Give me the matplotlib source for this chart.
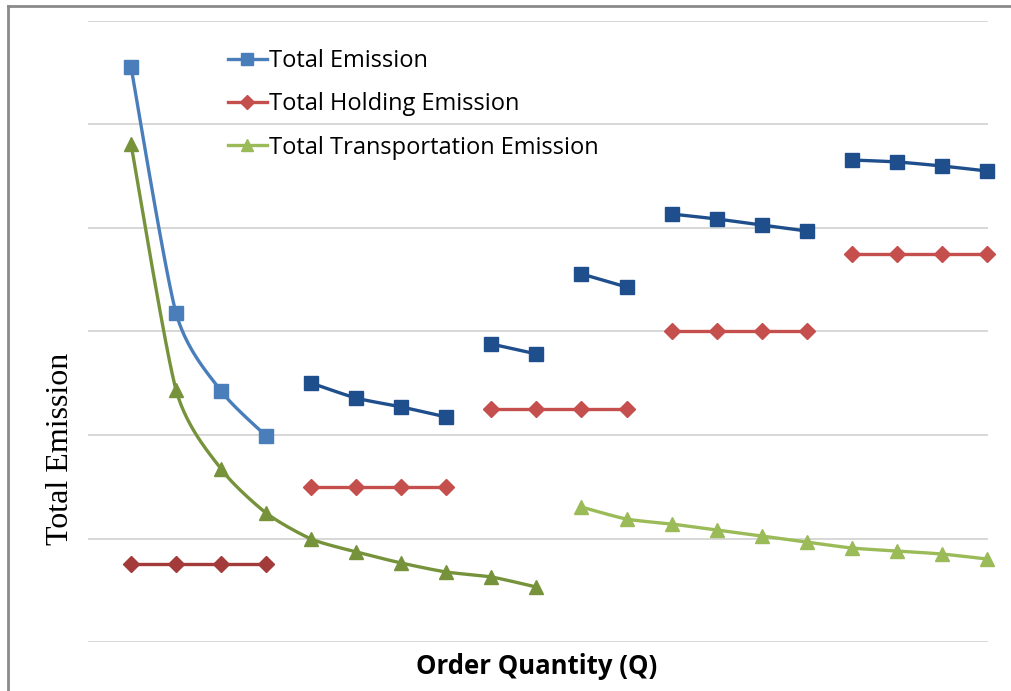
import numpy as np
import matplotlib
matplotlib.use("Agg")
import matplotlib.pyplot as plt
from matplotlib.lines import Line2D

# Order quantity levels (category positions 1..20)
order_q = list(range(1, 21))

total_emission = [555.6, 317.9, 242.5, 199.0,
                  250.2, 235.7, 227.1, 217.4,
                  287.9, 278.3,
                  355.6, 343.0,
                  413.5, 408.7, 402.9, 397.1,
                  465.7, 463.8, 459.9, 455.1]

holding_emission = [75.4, 75.4, 75.4, 75.4,
                    149.8, 149.8, 149.8, 149.8,
                    225.1, 225.1, 225.1, 225.1,
                    300.5, 300.5, 300.5, 300.5,
                    374.9, 374.9, 374.9, 374.9]

transport_emission = [481.2, 243.5, 167.1, 124.6, 99.5, 87.0, 76.3, 67.6, 62.8, 53.1,
                      130.4, 118.8, 114.0, 108.2, 102.4, 96.6, 90.8, 87.9, 85.0, 80.2]

# segments: (start index, end index inclusive, colour)
total_segments = [(0, 3, "#4a7ebb"), (4, 7, "#1f4e8c"), (8, 9, "#1f4e8c"),
                  (10, 11, "#1f4e8c"), (12, 15, "#1f4e8c"), (16, 19, "#1f4e8c")]
holding_segments = [(0, 3, "#a33b3a"), (4, 7, "#c44f4c"), (8, 11, "#c44f4c"),
                    (12, 15, "#c44f4c"), (16, 19, "#c44f4c")]
transport_segments = [(0, 9, "#76933c"), (10, 19, "#9bbb59")]


def smooth(x, y, n=30, tension=0.35):
    """Cardinal-spline smoothing through the given points."""
    x = np.asarray(x, float)
    y = np.asarray(y, float)
    if len(x) < 3:
        return x, y
    pts = np.column_stack([x, y])
    t = np.linspace(0, 1, n)
    h00 = 2 * t**3 - 3 * t**2 + 1
    h10 = t**3 - 2 * t**2 + t
    h01 = -2 * t**3 + 3 * t**2
    h11 = t**3 - t**2
    out = []
    for i in range(len(pts) - 1):
        p1, p2 = pts[i], pts[i + 1]
        p0 = pts[i - 1] if i > 0 else p1
        p3 = pts[i + 2] if i + 2 < len(pts) else p2
        m1 = tension * (p2 - p0)
        m2 = tension * (p3 - p1)
        seg = (np.outer(h00, p1) + np.outer(h10, m1) +
               np.outer(h01, p2) + np.outer(h11, m2))
        out.append(seg)
    out = np.vstack(out)
    return out[:, 0], out[:, 1]


fig = plt.figure(figsize=(10.11, 6.91), dpi=100)
ax = fig.add_axes([88 / 1011, 1 - 642 / 691, (988 - 88) / 1011, (642 - 21) / 691])

x = np.array(order_q, float)


def draw(values, segments, marker, ms, zorder):
    v = np.asarray(values, float)
    for s, e, c in segments:
        sx, sy = smooth(x[s:e + 1], v[s:e + 1])
        ax.plot(sx, sy, color=c, lw=2.4, zorder=zorder, solid_capstyle="round")
        ax.plot(x[s:e + 1], v[s:e + 1], ls="none", marker=marker, ms=ms,
                color=c, mec=c, zorder=zorder + 0.5, clip_on=False)


draw(holding_emission, holding_segments, "D", 8, 3)
draw(transport_emission, transport_segments, "^", 10, 4)
draw(total_emission, total_segments, "s", 9.5, 5)

ax.set_xlim(x[0] - 43 / 45.05, x[0] + (988 - 131) / 45.05)
ax.set_ylim(0, 600)
ax.set_yticks(np.arange(0, 601, 100))
ax.yaxis.grid(True, color="#d4d4d4", lw=1.3)
ax.set_axisbelow(True)
ax.tick_params(left=False, bottom=False, labelleft=False, labelbottom=False)
for sp in ax.spines.values():
    sp.set_visible(False)

fig.text(537 / 1011, 1 - 667 / 691, "Order Quantity (Q)", ha="center", va="center",
         fontsize=18.5, fontweight="bold", family=["Open Sans", "DejaVu Sans"])
fig.text(61 / 1011, 1 - 449 / 691, "Total Emission", rotation=90,
         ha="center", va="center", fontsize=23, family="Liberation Serif")

handles = [
    Line2D([], [], color="#4a7ebb", lw=2.4, marker="s", ms=9),
    Line2D([], [], color="#c44f4c", lw=2.4, marker="D", ms=7),
    Line2D([], [], color="#9bbb59", lw=2.4, marker="^", ms=9),
]
labels = ["Total Emission", "Total Holding Emission", "Total Transportation Emission"]
ax.legend(handles, labels, loc="upper left", bbox_to_anchor=(140 / 900, 0.955),
          borderaxespad=0, borderpad=0, frameon=False, handlelength=1.65,
          handletextpad=0.1, labelspacing=0.82,
          prop={"family": "Open Sans", "size": 17})

# outer frame lines (top and left)
fig.add_artist(Line2D([8 / 1011, 1], [1 - 6 / 691, 1 - 6 / 691],
                      transform=fig.transFigure, color="#8a8a8a", lw=2))
fig.add_artist(Line2D([8 / 1011, 8 / 1011], [0, 1 - 6 / 691],
                      transform=fig.transFigure, color="#8a8a8a", lw=2))

fig.savefig("out.png", dpi=100)
